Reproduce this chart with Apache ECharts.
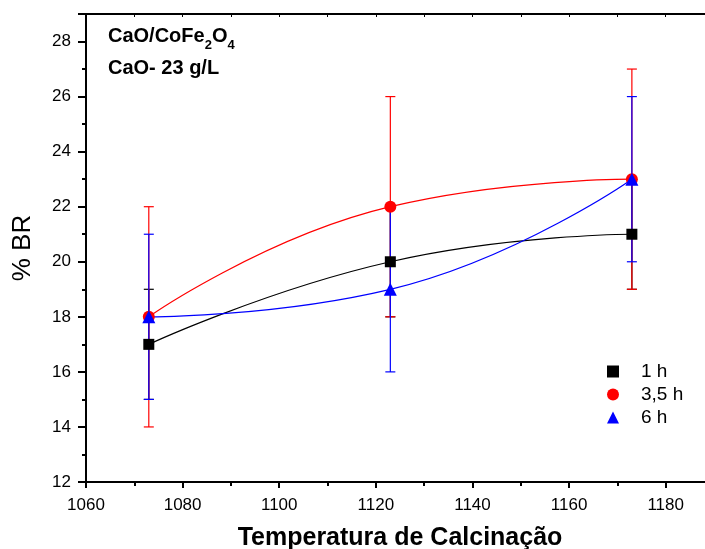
<!DOCTYPE html>
<html>
<head>
<meta charset="utf-8">
<script src="https://cdn.jsdelivr.net/npm/echarts@6/dist/echarts.min.js"></script>
<style>html,body{margin:0;padding:0;background:#fff;}#c{width:705px;height:549px;}</style>
</head>
<body>
<div id="c"></div>
<script>
var temps = [1073, 1123, 1173];
var br1h = [17, 20, 21];
var err1h = [2, 2, 2];
var br35h = [18, 22, 23];
var err35h = [4, 4, 4];
var br6h = [18, 19, 23];
var err6h = [3, 3, 3];
var seriesNames = ['1 h', '3,5 h', '6 h'];
var xTicks = [1060, 1080, 1100, 1120, 1140, 1160, 1180];
var yTicks = [12, 14, 16, 18, 20, 22, 24, 26, 28];

var FONT = '"Liberation Sans", Arial, sans-serif';
var chart = echarts.init(document.getElementById('c'), null, {renderer: 'canvas'});

function pairs(xs, ys) { return xs.map(function (x, i) { return [x, ys[i]]; }); }
function errData(xs, ys, es) { return xs.map(function (x, i) { return [x, ys[i] - es[i], ys[i] + es[i]]; }); }

function errSeries(name, data, color) {
  return {
    type: 'custom', name: name + ' err', data: data, z: 3,
    renderItem: function (params, api) {
      var lo = api.coord([api.value(0), api.value(1)]);
      var hi = api.coord([api.value(0), api.value(2)]);
      var w = 5;
      var st = {stroke: color, lineWidth: 1.2};
      return {type: 'group', children: [
        {type: 'line', shape: {x1: lo[0], y1: lo[1], x2: hi[0], y2: hi[1]}, style: st},
        {type: 'line', shape: {x1: lo[0] - w, y1: lo[1], x2: lo[0] + w, y2: lo[1]}, style: st},
        {type: 'line', shape: {x1: hi[0] - w, y1: hi[1], x2: hi[0] + w, y2: hi[1]}, style: st}
      ]};
    },
    encode: {x: 0, y: [1, 2]},
    silent: true
  };
}

function lineSeries(name, data, color, symbol, size) {
  return {
    type: 'line', name: name, data: data, smooth: 0.5, z: 4,
    symbol: symbol, symbolSize: size, showSymbol: true,
    itemStyle: {color: color},
    lineStyle: {color: color, width: 1.2}
  };
}

var option = {
  backgroundColor: '#fff',
  animation: false,
  textStyle: {fontFamily: FONT},
  grid: {left: 86, top: 14, right: -9, bottom: 67, containLabel: false, outerBoundsMode: 'none'},
  xAxis: [{
    type: 'value', min: 1060, max: 1190, interval: 20, position: 'bottom',
    axisLine: {show: true, lineStyle: {color: '#000', width: 2}},
    axisTick: {show: true, inside: false, length: 6, lineStyle: {color: '#000', width: 2}},
    minorTick: {show: true, splitNumber: 2, length: 4, lineStyle: {color: '#000', width: 2}},
    axisLabel: {fontSize: 17, color: '#000', margin: 15, fontFamily: FONT,
      formatter: function (v) { return xTicks.indexOf(v) >= 0 ? String(v) : ''; }},
    splitLine: {show: false},
    name: 'Temperatura de Calcinação', nameLocation: 'middle', nameGap: 44,
    nameTextStyle: {fontSize: 25, fontWeight: 'bold', color: '#000', fontFamily: FONT}
  }, {
    type: 'value', min: 1060, max: 1190, interval: 10, position: 'top',
    axisLine: {show: true, lineStyle: {color: '#000', width: 2}},
    axisTick: {show: true, inside: true, length: 3, lineStyle: {color: '#000', width: 1}},
    axisLabel: {show: false}, splitLine: {show: false}
  }],
  yAxis: [{
    type: 'value', min: 12, max: 29, interval: 2,
    axisLine: {show: true, lineStyle: {color: '#000', width: 2}},
    axisTick: {show: true, inside: false, length: 8, lineStyle: {color: '#000', width: 2}},
    minorTick: {show: true, splitNumber: 2, length: 4, lineStyle: {color: '#000', width: 2}},
    axisLabel: {fontSize: 17, color: '#000', margin: 15, fontFamily: FONT,
      formatter: function (v) { return yTicks.indexOf(v) >= 0 ? String(v) : ''; }},
    splitLine: {show: false},
    name: '% BR', nameLocation: 'middle', nameGap: 50, nameRotate: 90,
    nameTextStyle: {fontSize: 26, color: '#000', fontFamily: FONT}
  }],
  legend: {
    orient: 'vertical', left: 602, top: 357, itemGap: 4,
    itemWidth: 12, itemHeight: 12, selectedMode: false,
    textStyle: {fontSize: 19, color: '#000', fontFamily: FONT, padding: [0, 0, 0, 17]},
    data: [
      {name: seriesNames[0], icon: 'rect', itemStyle: {color: '#000'}},
      {name: seriesNames[1], icon: 'circle', itemStyle: {color: '#ff0000'}},
      {name: seriesNames[2], icon: 'triangle', itemStyle: {color: '#0000ff'}}
    ]
  },
  graphic: [{
    type: 'text', left: 108, top: 26,
    style: {
      text: '{b|CaO/CoFe}{s|2}{b|O}{s|4}',
      rich: {
        b: {fontSize: 20, fontWeight: 'bold', fontFamily: FONT, fill: '#000', verticalAlign: 'bottom'},
        s: {fontSize: 13, fontWeight: 'bold', fontFamily: FONT, fill: '#000', verticalAlign: 'bottom', padding: [0, 0, -6, 0]}
      }
    }
  }, {
    type: 'text', left: 108, top: 58,
    style: {text: 'CaO- 23 g/L', font: 'bold 20px ' + FONT, fill: '#000'}
  }],
  series: [
    errSeries(seriesNames[0], errData(temps, br1h, err1h), '#000'),
    lineSeries(seriesNames[0], pairs(temps, br1h), '#000', 'rect', 11),
    errSeries(seriesNames[1], errData(temps, br35h, err35h), '#ff0000'),
    lineSeries(seriesNames[1], pairs(temps, br35h), '#ff0000', 'circle', 12),
    errSeries(seriesNames[2], errData(temps, br6h, err6h), '#0000ff'),
    lineSeries(seriesNames[2], pairs(temps, br6h), '#0000ff', 'triangle', 13)
  ]
};
chart.setOption(option);
</script>
</body>
</html>
